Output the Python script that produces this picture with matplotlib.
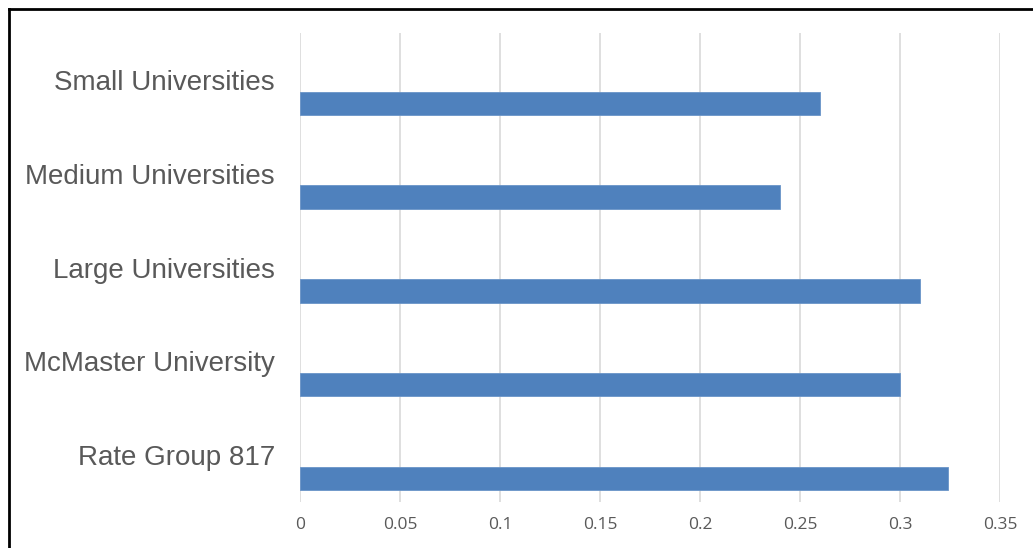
import numpy as np
import matplotlib
matplotlib.use("Agg")
import matplotlib.pyplot as plt
from matplotlib.lines import Line2D

# Data
categories = ['Small Universities', 'Medium Universities', 'Large Universities',
              'McMaster University', 'Rate Group 817']
values = [0.26, 0.24, 0.31, 0.30, 0.324]
x_ticks = [0, 0.05, 0.1, 0.15, 0.2, 0.25, 0.3, 0.35]
x_tick_labels = ['0', '0.05', '0.1', '0.15', '0.2', '0.25', '0.3', '0.35']

W, H = 1033, 548
fig = plt.figure(figsize=(W / 100, H / 100), dpi=100)
ax = fig.add_axes([300 / W, 1 - 502 / H, 700 / W, 469 / H])

pos = np.arange(len(categories))
# bars sit in the lower part of each category band
ax.barh(pos + 0.25, values, height=0.25, color='#4F81BD',
        edgecolor='#6A94C8', linewidth=0.6, zorder=3)

ax.set_xlim(0, 0.35)
ax.set_ylim(len(categories) - 0.5, -0.5)
ax.set_xticks(x_ticks)
ax.set_xticklabels(x_tick_labels, fontsize=12.5, color='#595959', family='Open Sans')
ax.set_yticks(pos)
ax.set_yticklabels(categories, fontsize=20, color='#595959', family='Liberation Sans')
ax.tick_params(axis='x', length=0, pad=11)
ax.tick_params(axis='y', length=0, pad=18)
ax.grid(axis='x', color='#D9D9D9', linewidth=1.2, zorder=0)
for s in ax.spines.values():
    s.set_visible(False)

# outer frame (top and left edges)
fig.add_artist(Line2D([9 / W, 1], [1 - 9 / H, 1 - 9 / H], color='black', linewidth=2))
fig.add_artist(Line2D([9 / W, 9 / W], [0, 1 - 9 / H], color='black', linewidth=2))

fig.savefig('out.png', dpi=100)
